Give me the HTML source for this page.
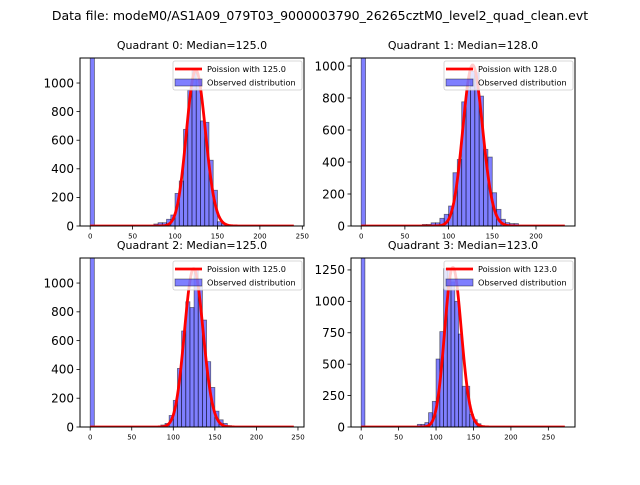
<!DOCTYPE html>
<html><head><meta charset="utf-8"><style>
html,body{margin:0;padding:0;background:#fff;}
svg text{font-family:"DejaVu Sans","Liberation Sans",sans-serif;}
</style></head>
<body>
<svg id="fig" width="640" height="480" viewBox="0 0 640 480" xmlns="http://www.w3.org/2000/svg">
<rect width="640" height="480" fill="#fff"/>
<text x="320" y="20" text-anchor="middle" font-size="12.5">Data file: modeM0/AS1A09_079T03_9000003790_26265cztM0_level2_quad_clean.evt</text>
</svg>
<script>
// ---- data ----
const quadNames = ["Quadrant 0","Quadrant 1","Quadrant 2","Quadrant 3"];
const medians = [125.0, 128.0, 125.0, 123.0];
const curvePeaks = [1090, 1006, 1100, 1270];
const dataMax = [240, 233, 245, 272];
const yMax = [1175, 1050, 1174, 1345];
const yTickStep = [200, 200, 200, 250];
const binWidth = 5;
const binStarts0 = [0,75,80,85,90,95,100,105,110,115,120,125,130,135,140,145,150,155,160];
const counts0    = [5000,14,23,23,47,77,228,315,676,950,1090,1020,735,725,460,250,30,19,7];
const binStarts1 = [0,70,75,80,85,90,95,100,105,110,115,120,125,130,135,140,145,150,155,160,165,170,175];
const counts1    = [5000,10,10,20,20,48,73,125,333,416,776,867,967,958,812,479,431,208,104,42,21,15,15];
const binStarts2 = [0,85,90,95,100,105,110,115,120,125,130,135,140,145,150,155,160,165];
const counts2    = [5000,14,25,80,185,407,667,870,830,1100,975,743,454,275,110,50,25,10];
const binStarts3 = [0,75,80,85,90,95,100,105,110,115,120,125,130,135,140,145,150,155,160];
const counts3    = [5000,21,21,35,114,204,541,759,1260,1260,1155,1000,740,324,324,100,58,26,10];
const allStarts = [binStarts0,binStarts1,binStarts2,binStarts3];
const allCounts = [counts0,counts1,counts2,counts3];

const NS="http://www.w3.org/2000/svg";
const svg=document.getElementById('fig');
const boxes=[[80,58,304,226],[351,58,575,226],[80,258,304,427],[351,258,575,427]];
function mk(tag,attrs,parent){const e=document.createElementNS(NS,tag);for(const k in attrs)e.setAttribute(k,attrs[k]);(parent||svg).appendChild(e);return e;}
function lgam(x){
  if(x<7){let p=1;while(x<7){p*=x;x++;}return lgam(x)-Math.log(p);}
  return (x-0.5)*Math.log(x)-x+0.5*Math.log(2*Math.PI)+1/(12*x)-1/(360*x*x*x);
}
for(let q=0;q<4;q++){
  const [L,T,R,B]=boxes[q];
  const xmin=-0.05*dataMax[q], xmax=dataMax[q]*1.05;
  const X=v=>L+(v-xmin)/(xmax-xmin)*(R-L);
  const Y=v=>B-v/yMax[q]*(B-T);
  const g=mk('g',{});
  
  
  const cid='clip'+q;
  const cp=mk('clipPath',{id:cid},g);mk('rect',{x:L,y:T,width:R-L,height:B-T},cp);
  const bars=mk('g',{'clip-path':'url(#'+cid+')'},g);
  allStarts[q].forEach((s,i)=>{
    const c=allCounts[q][i];
    const r=mk('rect',{x:X(s),y:Y(c),width:X(s+binWidth)-X(s),height:Y(0)-Y(c),fill:'#0000ff','fill-opacity':0.5,stroke:'#000','stroke-opacity':0.5,'stroke-width':0.8},bars);
    
    
  });
  const mu=medians[q];
  const logPeak=Math.floor(mu)*Math.log(mu)-mu-lgam(Math.floor(mu)+1);
  let d='';
  for(let k=0;k<=dataMax[q];k++){
    const lp=k*Math.log(mu)-mu-lgam(k+1);
    const v=curvePeaks[q]*Math.exp(lp-logPeak);
    d+=(k?'L':'M')+X(k).toFixed(2)+','+Y(v).toFixed(2);
  }
  const pl=mk('path',{d:d,fill:'none',stroke:'#ff0000','stroke-width':2.8,'stroke-linejoin':'round','clip-path':'url(#'+cid+')'},g);
  
  
  const fr=mk('rect',{x:L,y:T,width:R-L,height:B-T,fill:'none',stroke:'#000','stroke-width':1},g);
  
  
  for(let t=0;t<=xmax;t+=50){
    const x=X(t);
    mk('line',{x1:x,y1:B,x2:x,y2:B+3.5,stroke:'#000','stroke-width':0.8},g);
    const tx=mk('text',{x:x,y:B+12.5,'text-anchor':'middle','font-size':7},g);
    tx.textContent=t;
    
    
  }
  for(let t=0;t<=yMax[q];t+=yTickStep[q]){
    const y=Y(t);
    mk('line',{x1:L-3.5,y1:y,x2:L,y2:y,stroke:'#000','stroke-width':0.8},g);
    const ty=mk('text',{x:L-6,y:y+4.3,'text-anchor':'end','font-size':12},g);
    ty.textContent=t;
    
    
  }
  const ti=mk('text',{x:(L+R)/2,y:T-9,'text-anchor':'middle','font-size':11},g);
  ti.textContent=quadNames[q]+': Median='+medians[q].toFixed(1);
  
  
  const lg=mk('g',{},g);
  
  
  const lx=R-131, ly=T+3;
  mk('rect',{x:lx,y:ly,width:129,height:29,rx:2,fill:'#fff','fill-opacity':0.8,stroke:'#ccc','stroke-width':0.8},lg);
  mk('line',{x1:lx+2,y1:ly+8,x2:lx+29,y2:ly+8,stroke:'#ff0000','stroke-width':2.8},lg);
  const t1=mk('text',{x:lx+34,y:ly+11,'font-size':8.2},lg);
  t1.textContent='Poission with '+medians[q].toFixed(1);
  
  
  mk('rect',{x:lx+2,y:ly+18,width:27,height:7,fill:'#0000ff','fill-opacity':0.5,stroke:'#000','stroke-opacity':0.5,'stroke-width':0.8},lg);
  const t2=mk('text',{x:lx+34,y:ly+24.5,'font-size':8.2},lg);
  t2.textContent='Observed distribution';
  
  
}
</script>
</body></html>
